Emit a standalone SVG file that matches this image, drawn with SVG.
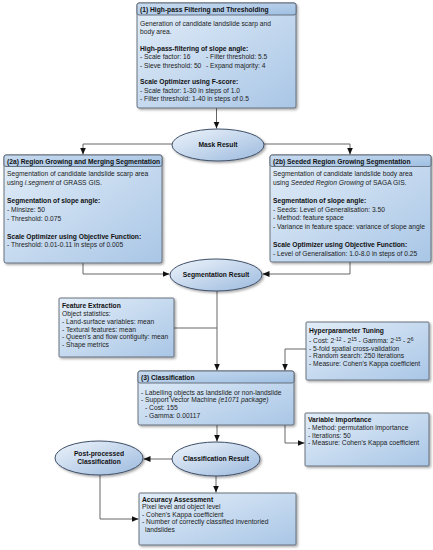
<svg xmlns="http://www.w3.org/2000/svg" width="433" height="550" viewBox="0 0 433 550">
<defs>
<linearGradient id="gBox" x1="0" y1="0" x2="1" y2="1">
<stop offset="0" stop-color="#e2edf8"/>
<stop offset="1" stop-color="#a9c6e6"/>
</linearGradient>
<linearGradient id="gTitle" x1="0" y1="0" x2="1" y2="1">
<stop offset="0" stop-color="#c9dcf0"/>
<stop offset="1" stop-color="#9fbfe2"/>
</linearGradient>
<linearGradient id="gEll" x1="0" y1="0" x2="1" y2="1">
<stop offset="0" stop-color="#eef4fb"/>
<stop offset="1" stop-color="#9cbade"/>
</linearGradient>
<filter id="sh" x="-10%" y="-10%" width="125%" height="130%">
<feDropShadow dx="1.5" dy="1.5" stdDeviation="1" flood-color="#000" flood-opacity="0.35"/>
</filter>
<marker id="arr" markerUnits="userSpaceOnUse" markerWidth="8" markerHeight="8" viewBox="0 0 8 8" refX="7" refY="4" orient="auto">
<path d="M0,1 L7,4 L0,7 Z" fill="#111"/>
</marker>
</defs>
<style>
text{font-family:"Liberation Sans",Arial,sans-serif;font-size:6.7px;fill:#222}
.b{font-weight:bold;fill:#111}
.i{font-style:italic}
.box{fill:url(#gBox);stroke:#5b6573;stroke-width:0.9;filter:url(#sh)}
.tb{fill:url(#gTitle);stroke:#5b6573;stroke-width:0.9}
.ell{fill:url(#gEll);stroke:#3f5069;stroke-width:1;filter:url(#sh)}
.c{fill:none;stroke:#666;stroke-width:1}
.ca{fill:none;stroke:#666;stroke-width:1;marker-end:url(#arr)}
.ct{text-anchor:middle}
</style>

<g id="connectors">
<path class="ca" d="M216.5,108 V128.5"/>
<path class="ca" d="M172,144 H83 V154.5"/>
<path class="ca" d="M264,144 H350 V154.5"/>
<path class="ca" d="M83,263 V274 H169.5"/>
<path class="ca" d="M350,262 V274 H262.5"/>
<path class="ca" d="M217,291 V370.5"/>
<path class="c" d="M174,328 H217"/>
<path class="ca" d="M306,349 H285 V370.5"/>
<path class="ca" d="M217,425 V441.5"/>
<path class="ca" d="M285,425 V443 H304.5"/>
<path class="ca" d="M172,459 H143.5"/>
<path class="ca" d="M216,476 V492.5"/>
<path class="ca" d="M100,475 V519 H138.5"/>
</g>

<g id="n1">
<rect class="box" x="137" y="3" width="159" height="105" rx="2"/>
<rect class="tb" x="137" y="3" width="159" height="12" rx="2"/>
<text class="b" x="140" y="11.8">(1) High-pass Filtering and Thresholding</text>
<text x="140" y="25.5">Generation of candidate landslide scarp and</text>
<text x="140" y="34">body area.</text>
<text class="b" x="140" y="50.5">High-pass-filtering of slope angle:</text>
<text x="140" y="59">- Scale factor: 16</text>
<text x="206" y="59">- Filter threshold: 5.5</text>
<text x="140" y="67.5">- Sieve threshold: 50</text>
<text x="206" y="67.5">- Expand majority: 4</text>
<text class="b" x="140" y="84">Scale Optimizer using F-score:</text>
<text x="140" y="92.5">- Scale factor: 1-30 in steps of 1.0</text>
<text x="140" y="101">- Filter threshold: 1-40 in steps of 0.5</text>
</g>

<g id="mask">
<ellipse class="ell" cx="218" cy="145" rx="46" ry="16"/>
<text class="b ct" x="218" y="147.3">Mask Result</text>
</g>

<g id="n2a">
<rect class="box" x="4" y="155" width="158" height="108" rx="2"/>
<rect class="tb" x="4" y="155" width="158" height="11.5" rx="2"/>
<text class="b" x="7" y="163.8">(2a) Region Growing and Merging Segmentation</text>
<text x="7" y="175.5">Segmentation of candidate landslide scarp area</text>
<text x="7" y="184.5">using <tspan class="i">i.segment</tspan> of GRASS GIS.</text>
<text class="b" x="7" y="202.5">Segmentation of slope angle:</text>
<text x="7" y="211.5">- Minsize: 50</text>
<text x="7" y="220.5">- Threshold: 0.075</text>
<text class="b" x="7" y="238.5">Scale Optimizer using Objective Function:</text>
<text x="7" y="247">- Threshold: 0.01-0.11 in steps of 0.005</text>
</g>

<g id="n2b">
<rect class="box" x="270" y="155" width="161" height="107" rx="2"/>
<rect class="tb" x="270" y="155" width="161" height="11.5" rx="2"/>
<text class="b" x="273" y="163.8">(2b) Seeded Region Growing Segmentation</text>
<text x="273" y="175.5">Segmentation of candidate landslide body area</text>
<text x="273" y="184.5">using <tspan class="i">Seeded Region Growing</tspan>  of SAGA GIS.</text>
<text class="b" x="273" y="202.5">Segmentation of slope angle:</text>
<text x="273" y="211.5">- Seeds: Level of Generalisation: 3.50</text>
<text x="273" y="220">- Method: feature space</text>
<text x="273" y="229">- Variance in feature space: variance of slope angle</text>
<text class="b" x="273" y="246.5">Scale Optimizer using Objective Function:</text>
<text x="273" y="255.5">- Level of Generalisation: 1.0-8.0 in steps of 0.25</text>
</g>

<g id="segres">
<ellipse class="ell" cx="216" cy="275" rx="46" ry="16"/>
<text class="b ct" x="216" y="277.3">Segmentation Result</text>
</g>

<g id="feat">
<rect class="box" x="59" y="298" width="115" height="59" rx="1"/>
<text class="b" x="62" y="308">Feature Extraction</text>
<text x="62" y="316">Object statistics:</text>
<text x="62" y="324">- Land-surface variables: mean</text>
<text x="62" y="331.7">- Textural features: mean</text>
<text x="62" y="339.4">- Queen's and flow contiguity: mean</text>
<text x="62" y="347.1">- Shape metrics</text>
</g>

<g id="hyper">
<rect class="box" x="306" y="322" width="123" height="58" rx="1"/>
<text class="b" x="309" y="332.5">Hyperparameter Tuning</text>
<text x="309" y="343">- Cost: 2<tspan dy="-2.5" font-size="5">-12</tspan><tspan dy="2.5"> - 2</tspan><tspan dy="-2.5" font-size="5">15</tspan><tspan dy="2.5">   - Gamma: 2</tspan><tspan dy="-2.5" font-size="5">-15</tspan><tspan dy="2.5"> - 2</tspan><tspan dy="-2.5" font-size="5">6</tspan></text>
<text x="309" y="350.5">- 5-fold spatial cross-validation</text>
<text x="309" y="358">- Random search: 250 iterations</text>
<text x="309" y="365.5">- Measure: Cohen's Kappa coefficient</text>
</g>

<g id="n3">
<rect class="box" x="138" y="371" width="156" height="54" rx="2"/>
<rect class="tb" x="138" y="371" width="156" height="12" rx="2"/>
<text class="b" x="141" y="379.8">(3) Classification</text>
<text x="141" y="394.5">- Labelling objects as landslide or non-landslide</text>
<text x="141" y="402">- Support Vector Machine <tspan class="i">(e1071 package)</tspan></text>
<text x="145" y="410">- Cost: 155</text>
<text x="145" y="418">- Gamma: 0.00117</text>
</g>

<g id="varimp">
<rect class="box" x="305" y="413" width="124" height="53" rx="1"/>
<text class="b" x="308" y="422.3">Variable Importance</text>
<text x="308" y="430">- Method: permutation importance</text>
<text x="308" y="437.7">- Iterations: 50</text>
<text x="308" y="445.4">- Measure: Cohen's Kappa coefficient</text>
</g>

<g id="postproc">
<ellipse class="ell" cx="99" cy="458" rx="44" ry="17"/>
<text class="b ct" x="99" y="456">Post-processed</text>
<text class="b ct" x="99" y="464">Classification</text>
</g>

<g id="classres">
<ellipse class="ell" cx="216" cy="459" rx="44" ry="17"/>
<text class="b ct" x="216" y="461.3">Classification Result</text>
</g>

<g id="acc">
<rect class="box" x="139" y="493" width="157" height="52" rx="1"/>
<text class="b" x="142" y="501.5">Accuracy Assessment</text>
<text x="142" y="509">Pixel level and object level</text>
<text x="142" y="516.7">- Cohen's Kappa coefficient</text>
<text x="142" y="524.4">- Number of correctly classified inventoried</text>
<text x="145" y="532.1">landslides</text>
</g>
</svg>
